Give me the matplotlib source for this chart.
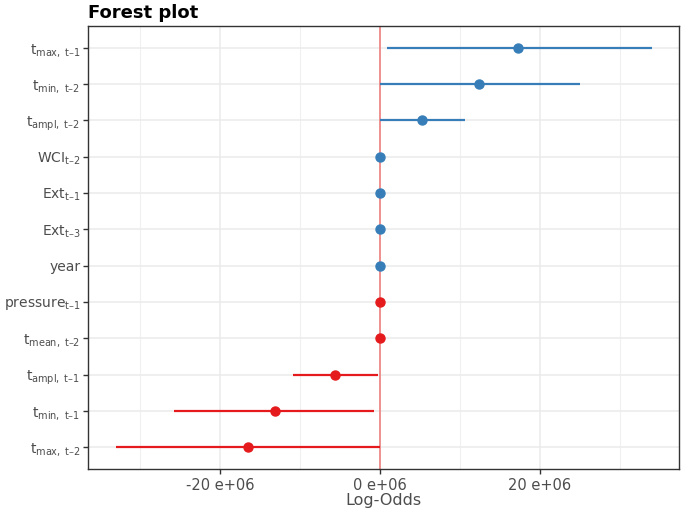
import numpy as np
import matplotlib.pyplot as plt

plt.rcParams['mathtext.fontset'] = 'dejavusans'

# predictors, top to bottom
labels = [r'$\mathrm{t}_{\mathrm{max,\ t–1}}$',
          r'$\mathrm{t}_{\mathrm{min,\ t–2}}$',
          r'$\mathrm{t}_{\mathrm{ampl,\ t–2}}$',
          r'$\mathrm{WCI}_{\mathrm{t–2}}$',
          r'$\mathrm{Ext}_{\mathrm{t–1}}$',
          r'$\mathrm{Ext}_{\mathrm{t–3}}$',
          'year',
          r'$\mathrm{pressure}_{\mathrm{t–1}}$',
          r'$\mathrm{t}_{\mathrm{mean,\ t–2}}$',
          r'$\mathrm{t}_{\mathrm{ampl,\ t–1}}$',
          r'$\mathrm{t}_{\mathrm{min,\ t–1}}$',
          r'$\mathrm{t}_{\mathrm{max,\ t–2}}$']

# estimates and intervals (in units of 1e6)
est = [17.25, 12.4, 5.25, 0, 0, 0, 0, 0, 0, -5.6, -13.1, -16.5]
low = [0.85, 0.0, 0.0, 0, 0, 0, 0, 0, 0, -10.9, -25.75, -33.0]
high = [34.0, 25.0, 10.6, 0, 0, 0, 0, 0, 0, -0.25, -0.75, 0.0]
positive = [True] * 7 + [False] * 5

BLUE = '#377EB8'
RED = '#E41A1C'

fig = plt.figure(figsize=(6.83, 5.11), dpi=100)
ax = fig.add_axes([88 / 683, 1 - 469 / 511, (679 - 88) / 683, (469 - 26) / 511])

n = len(labels)
y = np.arange(n, 0, -1)

ax.axvline(0, color='#F08080', lw=1.2, zorder=2)
for yi, e, lo, hi, pos in zip(y, est, low, high, positive):
    c = BLUE if pos else RED
    ax.plot([lo, hi], [yi, yi], color=c, lw=1.6, zorder=3, solid_capstyle='butt')
    ax.plot(e, yi, 'o', color=c, ms=6.5, zorder=4)

ax.set_xlim(-36.5, 37.4)
ax.set_ylim(0.4, n + 0.6)
ax.set_yticks(y)
ax.set_yticklabels(labels)
ax.set_xticks([-20, 0, 20])
ax.set_xticklabels(['-20 e+06', '0 e+06', '20 e+06'])
ax.set_xticks([-30, -10, 10, 30], minor=True)

ax.grid(True, which='major', color='#EBEBEB', lw=1.1, zorder=0)
ax.grid(True, which='minor', axis='x', color='#F0F0F0', lw=0.8, zorder=0)
ax.set_axisbelow(True)

ax.tick_params(axis='both', which='major', colors='#333333', labelcolor='#4D4D4D',
               length=3.5, width=1)
ax.tick_params(axis='x', which='major', labelsize=10.5, pad=3)
ax.tick_params(axis='y', which='major', labelsize=10, pad=2)
ax.tick_params(axis='x', which='minor', length=0)
for s in ax.spines.values():
    s.set_color('#333333')
    s.set_linewidth(1)

ax.set_xlabel('Log-Odds', fontsize=11.5, color='#4D4D4D', labelpad=0)
ax.set_title('Forest plot', loc='left', fontsize=13, fontweight='bold', pad=6)

fig.savefig('out.png', dpi=100)
